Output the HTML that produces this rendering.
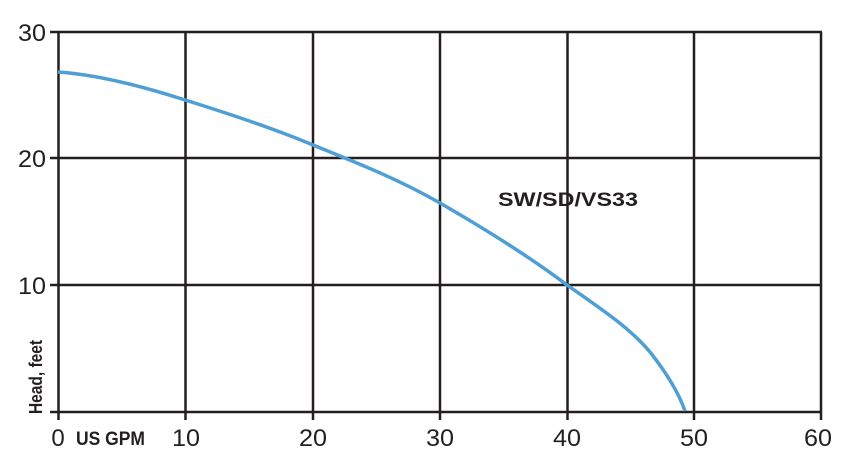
<!DOCTYPE html>
<html><head><meta charset="utf-8"><style>
html,body{margin:0;padding:0;background:#fff;}
svg{display:block;}
text{font-family:"Liberation Sans Narrow","Liberation Sans",sans-serif;fill:#231f20;}
</style></head><body>
<svg width="850" height="470" viewBox="0 0 850 470">
<g stroke="#231f20" stroke-width="2.5" fill="none">
<line x1="50" y1="32" x2="822" y2="32"/>
<line x1="50" y1="158" x2="822" y2="158"/>
<line x1="50" y1="285" x2="822" y2="285"/>
<line x1="50" y1="412" x2="822" y2="412"/>
<line x1="58.5" y1="32" x2="58.5" y2="420"/>
<line x1="185.5" y1="32" x2="185.5" y2="420"/>
<line x1="313" y1="32" x2="313" y2="420"/>
<line x1="440" y1="32" x2="440" y2="420"/>
<line x1="567.5" y1="32" x2="567.5" y2="420"/>
<line x1="694" y1="32" x2="694" y2="420"/>
<line x1="821" y1="32" x2="821" y2="420"/>
</g>
<path d="M58,72 C100,75 145,87 185,100 C230,114 275,129 313,145 C360,164 400,180 440,203 C485,229 530,257 567,285 C600,308 630,328 650,352 C665,371 678,391 685,411" stroke="#4f9fd5" stroke-width="3.5" fill="none"/>
<g font-size="24" text-anchor="end">
<text x="46" y="41" textLength="28" lengthAdjust="spacingAndGlyphs">30</text>
<text x="46" y="167" textLength="28" lengthAdjust="spacingAndGlyphs">20</text>
<text x="46" y="294" textLength="28" lengthAdjust="spacingAndGlyphs">10</text>
</g>
<g font-size="24" text-anchor="middle">
<text x="58" y="446">0</text>
<text x="186" y="446" textLength="28" lengthAdjust="spacingAndGlyphs">10</text>
<text x="313" y="446" textLength="28" lengthAdjust="spacingAndGlyphs">20</text>
<text x="440" y="446" textLength="28" lengthAdjust="spacingAndGlyphs">30</text>
<text x="567" y="446" textLength="28" lengthAdjust="spacingAndGlyphs">40</text>
<text x="694" y="446" textLength="28" lengthAdjust="spacingAndGlyphs">50</text>
<text x="818" y="446" textLength="28" lengthAdjust="spacingAndGlyphs">60</text>
</g>
<text x="76" y="445" font-size="19" font-weight="bold" textLength="69" lengthAdjust="spacingAndGlyphs">US GPM</text>
<text x="498" y="206" font-size="19" font-weight="bold" textLength="140" lengthAdjust="spacingAndGlyphs">SW/SD/VS33</text>
<text transform="translate(42,414) rotate(-90)" font-size="18" font-weight="bold" textLength="74" lengthAdjust="spacingAndGlyphs">Head, feet</text>
</svg>
</body></html>
